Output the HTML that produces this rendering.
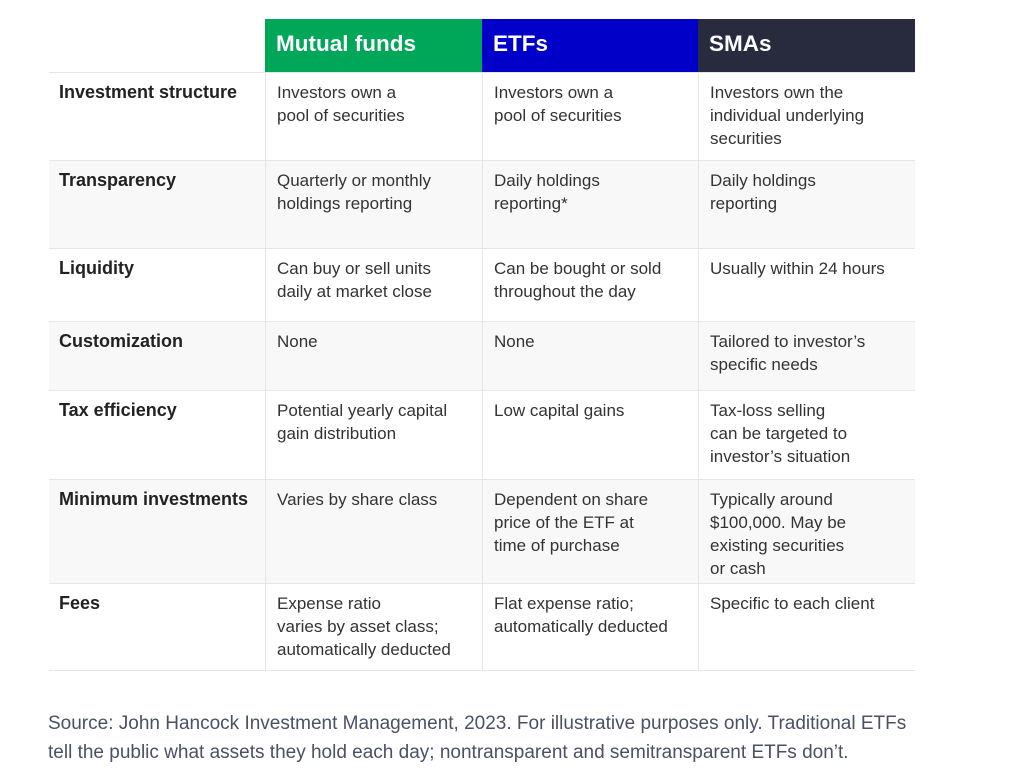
<!DOCTYPE html>
<html><head><meta charset="utf-8"><style>
body{margin:0;width:1024px;height:775px;background:#fff;position:relative;font-family:"Liberation Sans",sans-serif;overflow:hidden}
.a{position:absolute;box-sizing:border-box}
.h{color:#fff;font-weight:bold;font-size:22.5px;padding:12px 0 0 11px;height:53px;top:19px}
.row{left:49px;width:866px;border-top:1px solid #e6e6e6}
.c{position:absolute;top:0;bottom:0;padding:8px 0 0 11px;font-size:17px;line-height:23px;color:#333;box-sizing:border-box}
.l{left:0;width:216px;font-weight:bold;font-size:18px;color:#222;padding-left:10px}
.m{left:216px;width:217px;border-left:1px solid #e6e6e6}
.e{left:433px;width:216px;border-left:1px solid #e6e6e6}
.s{left:649px;width:217px;border-left:1px solid #e6e6e6}
.g{background:#f8f8f8}
.foot{left:48px;top:709px;font-size:19px;line-height:29px;color:#4a5164;white-space:nowrap}
</style></head><body>
<div class="a h" style="left:265px;width:217px;background:#00a758">Mutual funds</div>
<div class="a h" style="left:482px;width:216px;background:#0000c8">ETFs</div>
<div class="a h" style="left:698px;width:217px;background:#282b3e">SMAs</div>

<div class="a row" style="top:72px;height:88px"><div class="c l">Investment structure</div><div class="c m">Investors own a<br>pool of securities</div><div class="c e">Investors own a<br>pool of securities</div><div class="c s">Investors own the<br>individual underlying<br>securities</div></div>
<div class="a row g" style="top:160px;height:88px"><div class="c l">Transparency</div><div class="c m">Quarterly or monthly<br>holdings reporting</div><div class="c e">Daily holdings<br>reporting*</div><div class="c s">Daily holdings<br>reporting</div></div>
<div class="a row" style="top:248px;height:73px"><div class="c l">Liquidity</div><div class="c m">Can buy or sell units<br>daily at market close</div><div class="c e">Can be bought or sold<br>throughout the day</div><div class="c s">Usually within 24 hours</div></div>
<div class="a row g" style="top:321px;height:69px"><div class="c l">Customization</div><div class="c m">None</div><div class="c e">None</div><div class="c s">Tailored to investor’s<br>specific needs</div></div>
<div class="a row" style="top:390px;height:89px"><div class="c l">Tax efficiency</div><div class="c m">Potential yearly capital<br>gain distribution</div><div class="c e">Low capital gains</div><div class="c s">Tax-loss selling<br>can be targeted to<br>investor’s situation</div></div>
<div class="a row g" style="top:479px;height:104px"><div class="c l">Minimum investments</div><div class="c m">Varies by share class</div><div class="c e">Dependent on share<br>price of the ETF at<br>time of purchase</div><div class="c s">Typically around<br>$100,000. May be<br>existing securities<br>or cash</div></div>
<div class="a row" style="top:583px;height:88px;border-bottom:1px solid #e6e6e6"><div class="c l">Fees</div><div class="c m">Expense ratio<br>varies by asset class;<br>automatically deducted</div><div class="c e">Flat expense ratio;<br>automatically deducted</div><div class="c s">Specific to each client</div></div>

<div class="a foot">Source: John Hancock Investment Management, 2023. For illustrative purposes only. Traditional ETFs<br>tell the public what assets they hold each day; nontransparent and semitransparent ETFs don’t.</div>
</body></html>
